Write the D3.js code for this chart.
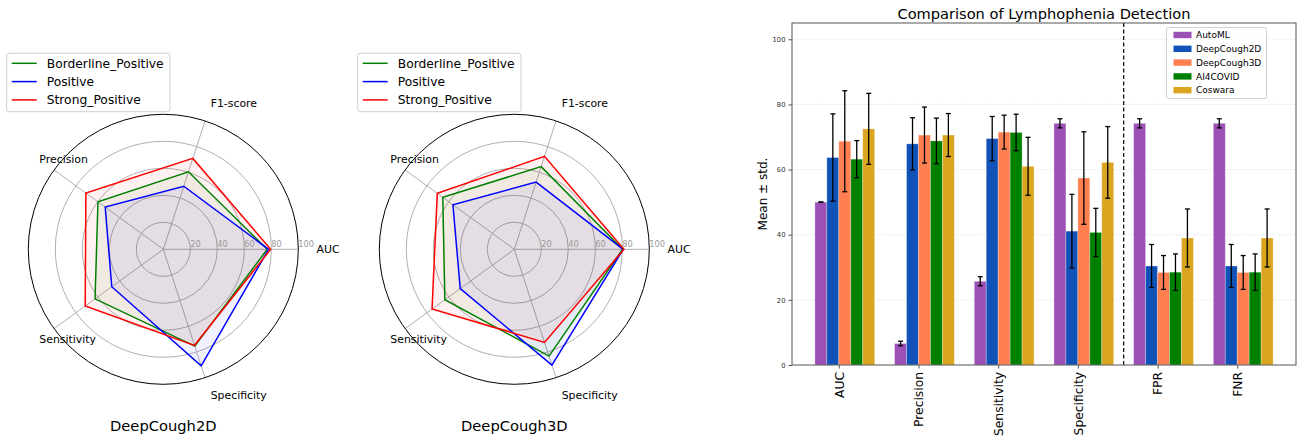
<!DOCTYPE html>
<html>
<head>
<meta charset="utf-8">
<script src="https://cdn.jsdelivr.net/npm/d3@7"></script>
<style>
  body { margin: 0; background: #fff; }
  svg { font-family: "DejaVu Sans", sans-serif; display: block; }
</style>
</head>
<body>
<script>
// radar data
var radarAxes = ["AUC", "F1-score", "Precision", "Sensitivity", "Specificity"];
var radarSeries = ["Borderline_Positive", "Positive", "Strong_Positive"];
var radarTicks = [20, 40, 60, 80, 100];
var dc2dBorderline = [77.0, 60.4, 59.8, 62.5, 75.4];
var dc2dPositive = [78.0, 49.1, 53.2, 47.2, 90.8];
var dc2dStrong = [79.5, 70.8, 70.9, 71.5, 74.8];
var dc3dBorderline = [80.2, 64.4, 65.5, 63.6, 83.2];
var dc3dPositive = [80.7, 52.3, 56.2, 49.5, 90.2];
var dc3dStrong = [81.2, 72.4, 70.5, 75.3, 72.5];

// bar data
var metrics = ["AUC", "Precision", "Sensitivity", "Specificity", "FPR", "FNR"];
var models = ["AutoML", "DeepCough2D", "DeepCough3D", "AI4COVID", "Coswara"];
var automlMean = [50.0, 6.6, 25.7, 74.2, 74.2, 74.2];
var automlStd = [0.05, 0.7, 1.4, 1.4, 1.4, 1.4];
var dc2dMean = [63.7, 67.9, 69.5, 41.1, 30.4, 30.4];
var dc2dStd = [13.4, 8.0, 6.8, 11.3, 6.6, 6.6];
var dc3dMean = [68.7, 70.6, 71.5, 57.4, 28.4, 28.4];
var dc3dStd = [15.5, 8.6, 5.2, 14.2, 5.2, 5.2];
var ai4Mean = [63.2, 68.8, 71.4, 40.7, 28.5, 28.5];
var ai4Std = [5.7, 7.0, 5.6, 7.4, 5.6, 5.6];
var coswaraMean = [72.5, 70.6, 61.0, 62.2, 39.0, 39.0];
var coswaraStd = [10.9, 6.6, 8.9, 11.0, 8.9, 8.9];
var yTicks = [0, 20, 40, 60, 80, 100];

var width = 1300,
    height = 436;
var svg = d3.select("body").append("svg")
    .attr("width", width)
    .attr("height", height);

var seriesColor = ["green", "blue", "red"];
var modelColor = ["#9c51b6", "#1152b9", "#ff7f50", "#008000", "#daa520"];

// ---------- radar charts ----------
function drawRadar(cx, cy, title, seriesValues) {
  var R = 135;
  var r = d3.scaleLinear().domain([0, 100]).range([0, R]);
  var angle = d3.scaleLinear().domain([0, radarAxes.length]).range([0, 2 * Math.PI]);
  var g = svg.append("g").attr("transform", "translate(" + cx + "," + cy + ")");

  // rings
  g.selectAll("circle.grid")
      .data(radarTicks.slice(0, -1))
    .enter().append("circle")
      .attr("r", function(d) { return r(d); })
      .attr("fill", "none")
      .attr("stroke", "#b0b0b0")
      .attr("stroke-width", 1);

  // spokes
  g.selectAll("line.spoke")
      .data(radarAxes)
    .enter().append("line")
      .attr("x1", 0).attr("y1", 0)
      .attr("x2", function(d, i) { return r(100) * Math.cos(angle(i)); })
      .attr("y2", function(d, i) { return -r(100) * Math.sin(angle(i)); })
      .attr("stroke", "#b0b0b0")
      .attr("stroke-width", 1);

  // polygons
  var line = d3.lineRadial()
      .angle(function(d, i) { return Math.PI / 2 - angle(i); })
      .radius(function(d) { return r(d); })
      .curve(d3.curveLinearClosed);
  seriesValues.forEach(function(vals, k) {
    g.append("path")
        .attr("d", line(vals))
        .attr("fill", seriesColor[k])
        .attr("fill-opacity", 0.055)
        .attr("stroke", "none");
  });
  seriesValues.forEach(function(vals, k) {
    g.append("path")
        .attr("d", line(vals))
        .attr("fill", "none")
        .attr("stroke", seriesColor[k])
        .attr("stroke-width", 1.5)
        .attr("stroke-linejoin", "miter");
  });

  // outer spine
  g.append("circle")
      .attr("r", r(100))
      .attr("fill", "none")
      .attr("stroke", "#000")
      .attr("stroke-width", 1);

  // radial tick labels
  g.selectAll("text.rtick")
      .data(radarTicks)
    .enter().append("text")
      .attr("x", function(d) { return r(d); })
      .attr("y", -5)
      .attr("dy", "0.35em")
      .attr("font-size", "8.2px")
      .attr("fill", "#9a9a9a")
      .text(function(d) { return d; });

  // axis labels
  g.selectAll("text.axis")
      .data(radarAxes)
    .enter().append("text")
      .attr("x", function(d, i) { return r(113.5) * Math.cos(angle(i)); })
      .attr("y", function(d, i) { return -r(113.5) * Math.sin(angle(i)); })
      .attr("dy", "0.35em")
      .attr("font-size", "10.9px")
      .attr("fill", "#000")
      .text(function(d) { return d; });

  // legend
  var lg = svg.append("g").attr("transform", "translate(" + (cx - 156.6) + "," + 53.3 + ")");
  lg.append("rect")
      .attr("width", 163.3).attr("height", 58.4)
      .attr("rx", 2.5)
      .attr("fill", "#fff").attr("fill-opacity", 0.8)
      .attr("stroke", "#d0d0d0");
  radarSeries.forEach(function(name, k) {
    var yy = 10 + k * 18.3;
    lg.append("line")
        .attr("x1", 5).attr("x2", 30)
        .attr("y1", yy).attr("y2", yy)
        .attr("stroke", seriesColor[k]).attr("stroke-width", 1.5);
    lg.append("text")
        .attr("x", 40).attr("y", yy)
        .attr("dy", "0.35em")
        .attr("font-size", "12.3px")
        .text(name);
  });

  // title
  svg.append("text")
      .attr("x", cx).attr("y", 431)
      .attr("text-anchor", "middle")
      .attr("font-size", "14.7px")
      .text(title);
}

drawRadar(163.3, 249.3, "DeepCough2D", [dc2dBorderline, dc2dPositive, dc2dStrong]);
drawRadar(514.3, 249.3, "DeepCough3D", [dc3dBorderline, dc3dPositive, dc3dStrong]);

// ---------- bar chart ----------
var plotLeft = 792, plotRight = 1296, plotTop = 23, plotBottom = 365;
var barW = 0.15;
var x = d3.scaleLinear().domain([-0.3625, 5.9625]).range([plotLeft, plotRight]);
var y = d3.scaleLinear().domain([0, 105]).range([plotBottom, plotTop]);
var means = [automlMean, dc2dMean, dc3dMean, ai4Mean, coswaraMean];
var stds = [automlStd, dc2dStd, dc3dStd, ai4Std, coswaraStd];

var bars = [];
models.forEach(function(m, i) {
  metrics.forEach(function(c, j) {
    bars.push({model: i, metric: j, mean: means[i][j], std: stds[i][j]});
  });
});

var chart = svg.append("g");

// grid
chart.selectAll("line.grid")
    .data(yTicks.slice(1))
  .enter().append("line")
    .attr("x1", plotLeft).attr("x2", plotRight)
    .attr("y1", function(d) { return y(d); })
    .attr("y2", function(d) { return y(d); })
    .attr("stroke", "#b0b0b0")
    .attr("stroke-opacity", 0.45)
    .attr("stroke-width", 0.7)
    .attr("stroke-dasharray", "1.5,1.5");

chart.selectAll("rect.bar")
    .data(bars)
  .enter().append("rect")
    .attr("x", function(d) { return x(d.metric + d.model * barW - barW / 2); })
    .attr("width", x(barW) - x(0))
    .attr("y", function(d) { return y(d.mean); })
    .attr("height", function(d) { return y(0) - y(d.mean); })
    .attr("fill", function(d) { return modelColor[d.model]; })
    .attr("stroke", "#fff")
    .attr("stroke-opacity", 0.35)
    .attr("stroke-width", 0.8);

// error bars
var err = chart.selectAll("g.err")
    .data(bars)
  .enter().append("g")
    .attr("stroke", "#000")
    .attr("stroke-width", 1.3);
err.append("line")
    .attr("x1", function(d) { return x(d.metric + d.model * barW); })
    .attr("x2", function(d) { return x(d.metric + d.model * barW); })
    .attr("y1", function(d) { return y(d.mean - d.std); })
    .attr("y2", function(d) { return y(d.mean + d.std); });
[-1, 1].forEach(function(s) {
  err.append("line")
      .attr("x1", function(d) { return x(d.metric + d.model * barW) - 2.5; })
      .attr("x2", function(d) { return x(d.metric + d.model * barW) + 2.5; })
      .attr("y1", function(d) { return y(d.mean + s * d.std); })
      .attr("y2", function(d) { return y(d.mean + s * d.std); });
});

// separator between metrics and error rates (middle of the gap)
var sepX = x(((3 + 4.5 * barW) + (4 - 0.5 * barW)) / 2);
chart.append("line")
    .attr("x1", sepX).attr("x2", sepX)
    .attr("y1", plotTop).attr("y2", plotBottom)
    .attr("stroke", "#000")
    .attr("stroke-width", 1.2)
    .attr("stroke-dasharray", "4,2.5");

// frame
chart.append("rect")
    .attr("x", plotLeft).attr("y", plotTop)
    .attr("width", plotRight - plotLeft).attr("height", plotBottom - plotTop)
    .attr("fill", "none")
    .attr("stroke", "#555")
    .attr("stroke-width", 1);

// y axis
var yAxis = chart.append("g")
    .attr("transform", "translate(" + plotLeft + ",0)")
    .call(d3.axisLeft(y).tickValues(yTicks).tickSize(3.5).tickPadding(3));
yAxis.select(".domain").remove();
yAxis.selectAll("line").attr("stroke", "#555");
yAxis.selectAll("text")
    .attr("font-family", "DejaVu Sans")
    .attr("font-size", "6.8px")
    .attr("fill", "#333");

// x axis
var xAxis = chart.append("g")
    .attr("transform", "translate(0," + plotBottom + ")")
    .call(d3.axisBottom(x)
      .tickValues(d3.range(metrics.length).map(function(j) { return j + 1.5 * barW; }))
      .tickFormat(function(d, i) { return metrics[i]; })
      .tickSize(3.5).tickPadding(3));
xAxis.select(".domain").remove();
xAxis.selectAll("line").attr("stroke", "#555");
xAxis.selectAll("text")
    .attr("font-family", "DejaVu Sans")
    .attr("font-size", "12.3px")
    .attr("fill", "#000")
    .attr("text-anchor", "end")
    .attr("transform", "rotate(-90)")
    .attr("x", -7)
    .attr("y", 0)
    .attr("dy", "0.35em");

// y label
svg.append("text")
    .attr("transform", "translate(763," + ((plotTop + plotBottom) / 2) + ") rotate(-90)")
    .attr("text-anchor", "middle")
    .attr("dy", "0.35em")
    .attr("font-size", "12px")
    .text("Mean \u00b1 std.");

// title
svg.append("text")
    .attr("x", (plotLeft + plotRight) / 2).attr("y", 18.5)
    .attr("text-anchor", "middle")
    .attr("font-size", "14.6px")
    .text("Comparison of Lymphophenia Detection");

// legend
var leg = svg.append("g").attr("transform", "translate(1166.5,27.5)");
leg.append("rect")
    .attr("width", 100).attr("height", 71)
    .attr("rx", 2)
    .attr("fill", "#fff").attr("fill-opacity", 0.8)
    .attr("stroke", "#d0d0d0");
models.forEach(function(m, i) {
  var yy = 7.5 + i * 13.8;
  leg.append("rect")
      .attr("x", 7).attr("y", yy - 3.2)
      .attr("width", 18).attr("height", 6.4)
      .attr("fill", modelColor[i]);
  leg.append("text")
      .attr("x", 29.5).attr("y", yy)
      .attr("dy", "0.35em")
      .attr("font-size", "9px")
      .text(m);
});
</script>
</body>
</html>
